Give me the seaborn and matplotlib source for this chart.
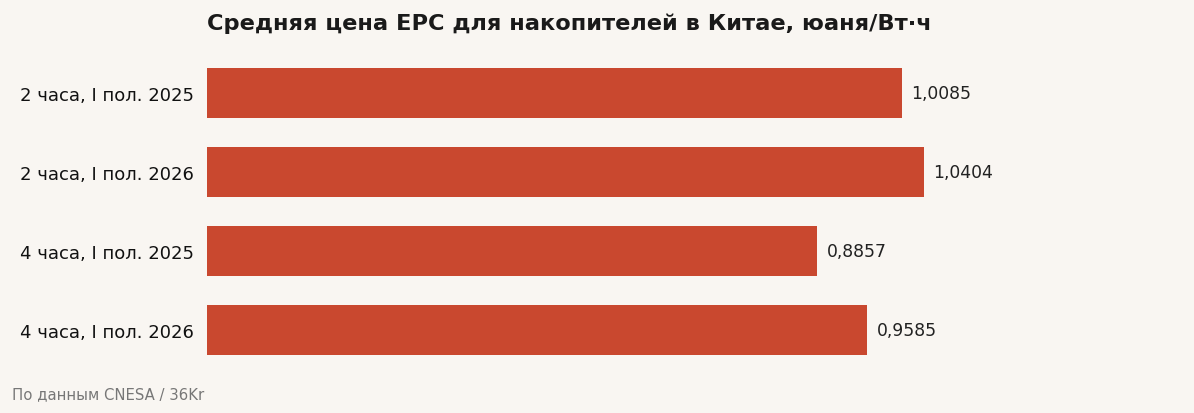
import pandas as pd
import matplotlib.pyplot as plt
import seaborn as sns

# data
categories = ["2 часа, I пол. 2025", "2 часа, I пол. 2026",
              "4 часа, I пол. 2025", "4 часа, I пол. 2026"]
prices = [1.0085, 1.0404, 0.8857, 0.9585]
price_labels = ["1,0085", "1,0404", "0,8857", "0,9585"]

df = pd.DataFrame({"category": categories, "price": prices})

bg = "#f9f6f2"
sns.set_theme(style="white")
plt.rcParams["font.family"] = ["DejaVu Sans"]

fig = plt.figure(figsize=(11.94, 4.14), dpi=100, facecolor=bg)
ax = fig.add_axes([207 / 1194, 43 / 414, 973 / 1194, 317 / 414])
ax.set_facecolor(bg)

sns.barplot(data=df, x="price", y="category", color="#c9482f",
            width=0.63, saturation=1, linewidth=0, ax=ax)

ax.bar_label(ax.containers[0], labels=price_labels, padding=7,
             fontsize=12.4, color="#222222")

ax.set_xlim(0, 973 / 689)
ax.set_ylim(3.5, -0.5)
ax.set_xlabel("")
ax.set_ylabel("")
ax.set_xticks([])
ax.tick_params(axis="y", length=0, labelsize=13, pad=9.4, labelcolor="#111111")
sns.despine(ax=ax, left=True, bottom=True)

ax.set_title("Средняя цена EPC для накопителей в Китае, юаня/Вт·ч",
             loc="left", fontsize=16.2, fontweight="bold", color="#1a1a1a", pad=17)

fig.text(12 / 1194, (414 - 395) / 414, "По данным CNESA / 36Kr", fontsize=10.7,
         color="#777777", va="center", ha="left")

fig.savefig("out.png", dpi=100, facecolor=bg)
